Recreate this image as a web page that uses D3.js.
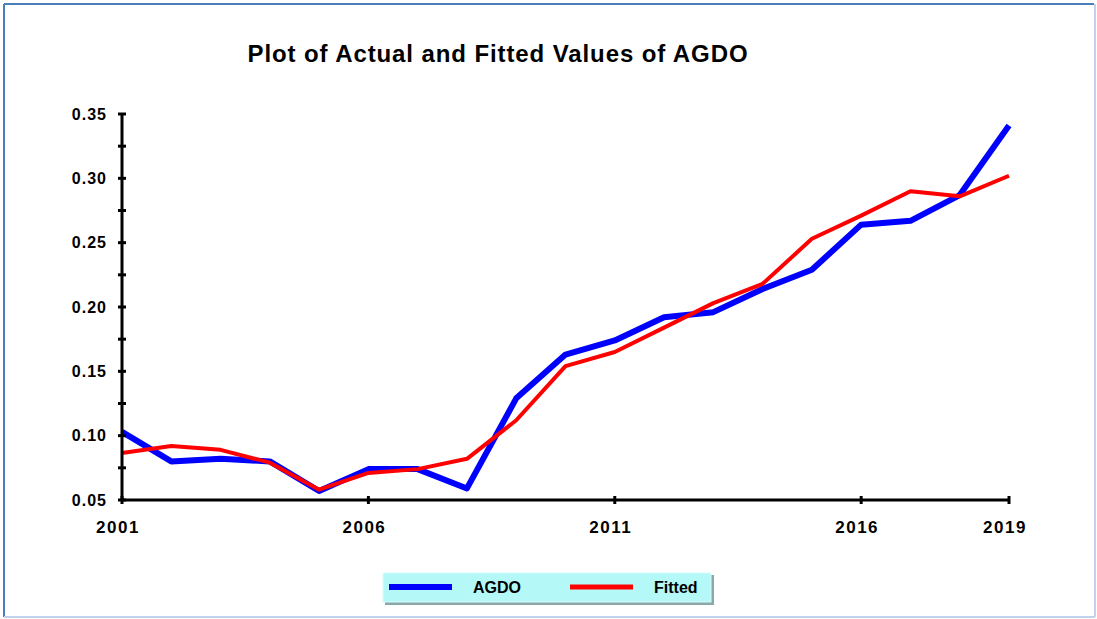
<!DOCTYPE html>
<html lang="en">
<head>
    <meta charset="UTF-8">
    <title>Plot of Actual and Fitted Values of AGDO</title>
    <script src="https://cdn.jsdelivr.net/npm/d3@7"></script>
    <style>
        body { margin: 0; background: #fff; }
        text { font-family: "Liberation Sans", Arial, sans-serif; font-weight: bold; }
    </style>
</head>
<body>
<svg width="1097" height="619"></svg>
<script>
    // data
    var years = [2001, 2002, 2003, 2004, 2005, 2006, 2007, 2008, 2009, 2010,
                 2011, 2012, 2013, 2014, 2015, 2016, 2017, 2018, 2019];
    var agdo = [0.103, 0.080, 0.082, 0.080, 0.057, 0.074, 0.074, 0.059, 0.129, 0.163,
                0.174, 0.192, 0.196, 0.214, 0.229, 0.264, 0.267, 0.287, 0.341];
    var fitted = [0.0865, 0.092, 0.089, 0.079, 0.058, 0.071, 0.074, 0.082, 0.112, 0.154,
                  0.165, 0.184, 0.203, 0.218, 0.253, 0.271, 0.290, 0.286, 0.302];
    var xTicks = [2001, 2006, 2011, 2016, 2019];
    var yTicks = [0.05, 0.10, 0.15, 0.20, 0.25, 0.30, 0.35];
    var yMinor = [0.075, 0.125, 0.175, 0.225, 0.275, 0.325];
    var seriesNames = ["AGDO", "Fitted"];

    var svg = d3.select('svg');

    // frame
    svg.append('line').attr('x1', 4).attr('y1', 4).attr('x2', 1094).attr('y2', 4)
        .attr('stroke', '#4a7ebb').attr('stroke-width', 2);
    svg.append('line').attr('x1', 4).attr('y1', 4).attr('x2', 4).attr('y2', 617)
        .attr('stroke', '#4a7ebb').attr('stroke-width', 2);
    svg.append('line').attr('x1', 1095).attr('y1', 4).attr('x2', 1095).attr('y2', 617)
        .attr('stroke', '#c0d2ec').attr('stroke-width', 2);
    svg.append('line').attr('x1', 4).attr('y1', 617).attr('x2', 1095).attr('y2', 617)
        .attr('stroke', '#c0d2ec').attr('stroke-width', 2);

    // title
    svg.append('text')
        .attr('x', 498).attr('y', 62)
        .attr('text-anchor', 'middle')
        .attr('font-size', '24px')
        .attr('letter-spacing', '0.9px')
        .text('Plot of Actual and Fitted Values of AGDO');

    // scales
    var x = d3.scaleLinear().domain([2001, 2019]).range([122, 1009]);
    var y = d3.scaleLinear().domain([0.05, 0.35]).range([500, 114]);

    // lines
    var line = d3.line()
        .x(function(d, i){ return x(years[i]); })
        .y(function(d){ return y(d); });

    svg.append('path').datum(agdo)
        .attr('d', line).attr('fill', 'none')
        .attr('stroke', '#0000ff').attr('stroke-width', 6)
        .attr('stroke-linejoin', 'round');
    svg.append('path').datum(fitted)
        .attr('d', line).attr('fill', 'none')
        .attr('stroke', '#ff0000').attr('stroke-width', 4)
        .attr('stroke-linejoin', 'round');

    // y axis
    var yAxis = svg.append('g').attr('transform', 'translate(122,0)');
    yAxis.append('line').attr('x1', 0).attr('x2', 0)
        .attr('y1', y(0.05)).attr('y2', y(0.35))
        .attr('stroke', '#000').attr('stroke-width', 3);
    yAxis.selectAll('.tk').data(yTicks.concat(yMinor)).enter().append('line')
        .attr('x1', -4).attr('x2', 4)
        .attr('y1', y).attr('y2', y)
        .attr('stroke', '#000').attr('stroke-width', 3);
    yAxis.selectAll('.lb').data(yTicks).enter().append('text')
        .attr('x', -15).attr('y', y).attr('dy', '0.36em')
        .attr('text-anchor', 'end')
        .attr('font-size', '16px')
        .attr('letter-spacing', '1px')
        .text(d3.format('.2f'));

    // x axis
    var xAxis = svg.append('g').attr('transform', 'translate(0,500)');
    xAxis.append('line').attr('x1', x(2001)).attr('x2', x(2019))
        .attr('y1', 0).attr('y2', 0)
        .attr('stroke', '#000').attr('stroke-width', 3);
    xAxis.selectAll('.tk').data(xTicks).enter().append('line')
        .attr('x1', x).attr('x2', x)
        .attr('y1', -4).attr('y2', 4)
        .attr('stroke', '#000').attr('stroke-width', 3);
    xAxis.selectAll('.lb').data(xTicks).enter().append('text')
        .attr('x', function(d){ return x(d) - 4; }).attr('y', 33)
        .attr('text-anchor', 'middle')
        .attr('font-size', '17px')
        .attr('letter-spacing', '1.5px')
        .text(function(d){ return d; });

    // legend
    var legend = svg.append('g').attr('transform', 'translate(383,573)');
    legend.append('rect').attr('x', 2).attr('y', 2).attr('width', 329).attr('height', 30)
        .attr('fill', '#8aa8a8');
    legend.append('rect').attr('x', 0).attr('y', 0).attr('width', 328).attr('height', 29)
        .attr('fill', '#b4f8f8').attr('stroke', '#d8fcfc').attr('stroke-width', 1);
    var colors = ['#0000ff', '#ff0000'];
    var widths = [6, 5];
    var items = legend.selectAll('.item').data(seriesNames).enter().append('g')
        .attr('transform', function(d, i){ return 'translate(' + (6 + i * 181) + ',0)'; });
    items.append('line')
        .attr('x1', 0).attr('x2', 63).attr('y1', 14).attr('y2', 14)
        .attr('stroke', function(d, i){ return colors[i]; })
        .attr('stroke-width', function(d, i){ return widths[i]; });
    items.append('text')
        .attr('x', 84)
        .attr('y', 20)
        .attr('font-size', '16px')
        .text(function(d){ return d; });
</script>
</body>
</html>
